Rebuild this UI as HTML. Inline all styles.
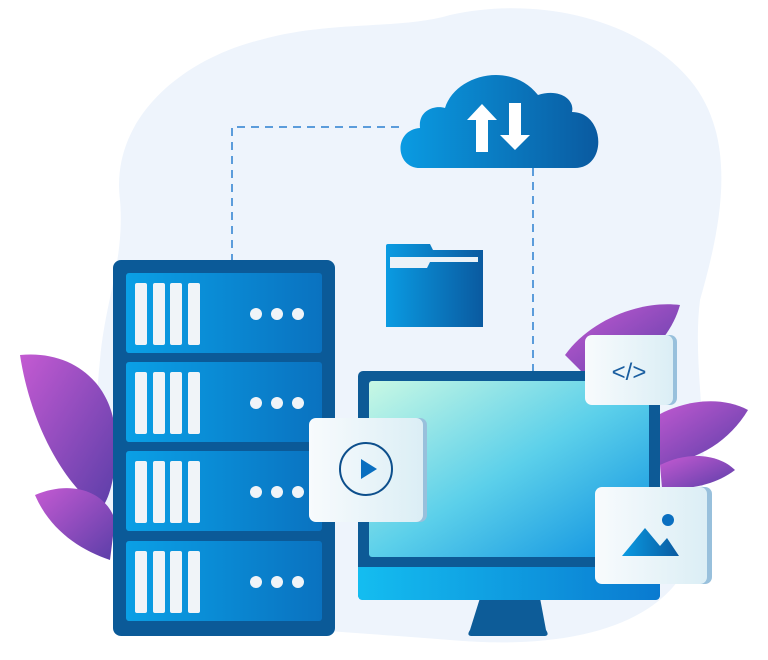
<!DOCTYPE html>
<html><head><meta charset="utf-8"><style>html,body{margin:0;padding:0;background:#fff}svg{display:block}</style></head>
<body>
<svg width="768" height="660" viewBox="0 0 768 660" xmlns="http://www.w3.org/2000/svg">
<defs>
<linearGradient id="blue" x1="0" x2="1"><stop offset="0" stop-color="#0a9be2"/><stop offset="1" stop-color="#0a5aa0"/></linearGradient>
<linearGradient id="unit" x1="0" x2="1"><stop offset="0" stop-color="#0aa0e6"/><stop offset="1" stop-color="#0a72c0"/></linearGradient>
<linearGradient id="scr" x1="0" y1="0" x2="1" y2="1"><stop offset="0" stop-color="#c8f8e4"/><stop offset="0.5" stop-color="#5cd0ea"/><stop offset="1" stop-color="#0a8ee0"/></linearGradient>
<linearGradient id="chin" x1="0" x2="1"><stop offset="0" stop-color="#14bdf0"/><stop offset="1" stop-color="#0a7ad0"/></linearGradient>
<linearGradient id="card" x1="0" x2="1"><stop offset="0" stop-color="#f8fbfd"/><stop offset="1" stop-color="#dbeef5"/></linearGradient>
<linearGradient id="leaf" x1="0" y1="0" x2="1" y2="1"><stop offset="0" stop-color="#c45ad2"/><stop offset="1" stop-color="#5a3ea8"/></linearGradient>
</defs>
<path d="M120 200 C110 120 180 60 260 40 C330 20 400 30 450 15 C540 -5 640 20 690 80 C740 140 720 230 700 300 C690 380 720 470 690 560 C660 630 560 650 450 640 C330 630 240 630 170 600 C100 560 90 450 100 360 C105 300 125 260 120 200Z" fill="#eef4fc"/>
<path d="M20 355 C70 350 110 380 115 430 C118 470 110 500 100 510 C60 480 30 420 20 355Z" fill="url(#leaf)"/>
<path d="M35 495 C70 480 105 490 115 520 L110 560 C80 550 50 530 35 495Z" fill="url(#leaf)"/>
<path d="M565 355 C590 320 640 300 680 305 C670 340 640 370 590 380Z" fill="url(#leaf)"/>
<path d="M650 420 C680 400 720 395 748 410 C730 440 700 460 660 465Z" fill="url(#leaf)"/>
<path d="M660 465 C690 450 720 455 735 470 C715 485 690 490 662 488Z" fill="url(#leaf)"/>
<path d="M232 262 V127 H402 M533 168 V372" fill="none" stroke="#2a7fd0" stroke-width="1.5" stroke-dasharray="8 6"/>
<path d="M420 168 C395 168 393 130 420 128 C418 110 435 105 445 108 C455 75 510 60 538 95 C560 88 575 100 572 112 C605 112 608 168 575 168Z" fill="url(#blue)"/>
<path d="M476 152 V120 H467 L482 104 L497 120 H488 V152Z" fill="#fff"/>
<path d="M509 103 H521 V135 H530 L515 150 L500 135 H509Z" fill="#fff"/>
<path d="M386 246 Q386 244 388 244 H430 L433 250 H483 V327 H386Z" fill="url(#blue)"/>
<path d="M390 257 H478 V262 H430 L427 268 H390Z" fill="#eaf2f8"/>
<rect x="113" y="260" width="222" height="376" rx="8" fill="#0b5a98"/>
<g id="u">
<rect x="126" y="273" width="196" height="80" rx="3" fill="url(#unit)"/>
<rect x="135" y="283" width="12" height="62" rx="2" fill="#f0f4f8"/>
<rect x="153" y="283" width="12" height="62" rx="2" fill="#f0f4f8"/>
<rect x="170" y="283" width="12" height="62" rx="2" fill="#f0f4f8"/>
<rect x="188" y="283" width="12" height="62" rx="2" fill="#f0f4f8"/>
<circle cx="256" cy="314" r="6" fill="#f0f4f8"/><circle cx="277" cy="314" r="6" fill="#f0f4f8"/><circle cx="298" cy="314" r="6" fill="#f0f4f8"/>
</g>
<use href="#u" y="89"/><use href="#u" y="178"/><use href="#u" y="268"/>
<path d="M480 598 H540 L546 630 Q550 636 544 636 H472 Q466 636 470 630Z" fill="#0d5c98"/>
<rect x="358" y="371" width="302" height="229" rx="5" fill="#0d5a96"/>
<rect x="369" y="381" width="280" height="176" rx="3" fill="url(#scr)"/>
<path d="M358 567 H660 V595 Q660 600 655 600 H363 Q358 600 358 595Z" fill="url(#chin)"/>
<rect x="315" y="418" width="112" height="104" rx="7" fill="#98c0dc"/>
<rect x="309" y="418" width="114" height="104" rx="7" fill="url(#card)"/>
<circle cx="366" cy="469" r="26" fill="none" stroke="#0d4f8c" stroke-width="2"/>
<path d="M361 459 L377 469 L361 479Z" fill="#0a6fc0"/>
<rect x="590" y="335" width="87" height="70" rx="7" fill="#98c0dc"/>
<rect x="585" y="335" width="88" height="70" rx="7" fill="url(#card)"/>
<text x="629" y="380" font-family="Liberation Sans, sans-serif" font-size="24" fill="#1a5ea0" text-anchor="middle">&lt;/&gt;</text>
<rect x="600" y="487" width="112" height="97" rx="7" fill="#98c0dc"/>
<rect x="595" y="487" width="112" height="97" rx="7" fill="url(#card)"/>
<path d="M622 556 L645 528 L660 546 L667 538 L679 556Z" fill="url(#blue)"/>
<circle cx="668" cy="520" r="6" fill="#0a6fc0"/>
</svg>
</body></html>
